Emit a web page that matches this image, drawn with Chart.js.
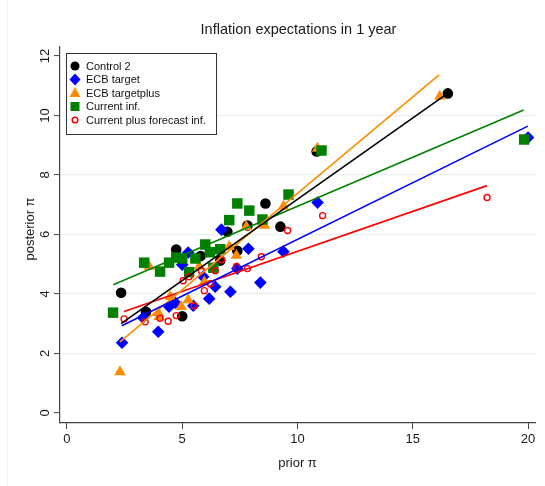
<!DOCTYPE html>
<html>
<head>
<meta charset="utf-8">
<script src="https://cdn.jsdelivr.net/npm/chart.js@4/dist/chart.umd.min.js"></script>
<style>
  html, body { margin: 0; padding: 0; background: #fff; }
</style>
</head>
<body>
<canvas id="chart" width="545" height="486"></canvas>
<script>
// values: [prior, posterior]
const control2 = [[2.35,4.04],[3.43,3.40],[5.0,3.25],[4.74,5.49],[5.8,5.27],[6.65,5.12],[6.96,6.09],
  [7.39,5.45],[7.83,6.30],[8.61,7.04],[9.26,6.26],[10.83,8.79],[16.52,10.74]];
const ecbTarget = [[2.39,2.36],[3.30,3.20],[3.96,2.73],[4.43,3.57],[4.70,3.70],[5.0,4.98],[5.26,5.39],
  [5.48,3.60],[5.91,4.58],[6.17,3.84],[6.43,4.24],[6.70,6.16],[7.09,4.07],[7.39,4.85],[7.87,5.52],
  [8.39,4.38],[9.39,5.42],[10.87,7.07],[20.0,9.26]];
const ecbTargetPlus = [[2.30,1.38],[3.57,4.92],[3.96,3.37],[4.0,3.23],[4.48,3.91],[4.96,3.57],[5.26,3.80],
  [5.74,4.92],[5.96,4.40],[7.04,5.59],[7.35,5.29],[7.78,6.26],[8.57,6.30],[9.39,6.94],[10.87,8.89],[16.17,10.64]];
const currentInf = [[2.0,3.37],[3.35,5.05],[4.04,4.75],[4.43,5.05],[4.74,5.22],[5.0,5.19],[5.30,4.73],
  [5.57,5.19],[6.0,5.66],[6.20,5.40],[6.35,4.88],[6.65,5.50],[7.04,6.48],[7.39,7.04],[7.91,6.80],
  [8.48,6.50],[9.61,7.34],[11.04,8.82],[19.83,9.19]];
const currentPlus = [[2.48,3.16],[3.39,3.06],[4.04,3.18],[4.39,3.08],[4.74,3.27],[5.04,4.44],[5.30,4.58],
  [5.52,3.60],[5.83,4.78],[5.96,4.11],[6.22,4.34],[6.43,4.78],[6.70,5.15],[7.35,4.92],[7.83,4.85],
  [8.43,5.25],[9.57,6.13],[11.09,6.63],[18.22,7.24]];

// fitted lines, ends
const fitControl2 = [[2.35,3.00],[16.45,10.71]];
const fitEcbTarget = [[2.38,2.93],[19.99,9.64]];
const fitEcbTargetPlus = [[2.30,2.39],[16.14,11.36]];
const fitCurrentInf = [[2.01,4.31],[19.81,10.18]];
const fitCurrentPlus = [[2.48,3.41],[18.22,7.64]];

const seriesNames = ['Control 2', 'ECB target', 'ECB targetplus', 'Current inf.', 'Current plus forecast inf.'];
const xTicks = [0, 5, 10, 15, 20];
const yTicks = [0, 2, 4, 6, 8, 10, 12];
const chartTitle = 'Inflation expectations in 1 year';

const FONT = '"Liberation Sans", Arial, Helvetica, sans-serif';
const colors = ['#000000', '#0000ff', '#ff8c00', '#008000', '#ff0000'];

const pts = arr => arr.map(p => ({ x: p[0], y: p[1] }));

function fitLine(arr, color) {
  return {
    data: pts(arr), showLine: true, borderColor: color, borderWidth: 1.6,
    pointRadius: 0, fill: false, order: 0
  };
}

const legendPlugin = {
  id: 'stataText',
  afterDraw(chart) {
    const ctx = chart.ctx;
    const a = chart.chartArea;
    const ys = chart.scales.y;
    ctx.save();
    // faint outer border on the left
    ctx.strokeStyle = '#eef3f4';
    ctx.lineWidth = 1;
    ctx.beginPath(); ctx.moveTo(7.5, 0); ctx.lineTo(7.5, 486); ctx.stroke();

    ctx.fillStyle = '#1a1a1a';
    ctx.textAlign = 'center';
    ctx.textBaseline = 'middle';
    ctx.font = '14.5px ' + FONT;
    ctx.fillText(chartTitle, (a.left + a.right) / 2 + 1, 30);

    ctx.font = '13px ' + FONT;
    ctx.fillText('prior π', (a.left + a.right) / 2, 463);

    ctx.save();
    ctx.translate(30, 229);
    ctx.rotate(-Math.PI / 2);
    ctx.fillText('posterior π', 0, 0);
    ctx.restore();

    yTicks.forEach(v => {
      ctx.save();
      ctx.translate(45, ys.getPixelForValue(v));
      ctx.rotate(-Math.PI / 2);
      ctx.fillText(String(v), 0, 0);
      ctx.restore();
    });

    // legend box
    const lx = 66, ly = 53, lw = 150, lh = 81;
    ctx.fillStyle = '#fff';
    ctx.fillRect(lx, ly, lw, lh);
    ctx.strokeStyle = '#333';
    ctx.lineWidth = 1;
    ctx.strokeRect(lx + 0.5, ly + 0.5, lw, lh);

    ctx.font = '11px ' + FONT;
    ctx.textAlign = 'left';
    seriesNames.forEach((name, i) => {
      const cy = 66 + i * 13.5;
      const cx = 75;
      ctx.fillStyle = colors[i];
      ctx.strokeStyle = colors[i];
      ctx.beginPath();
      if (i === 0) {
        ctx.arc(cx, cy, 4.5, 0, Math.PI * 2); ctx.fill();
      } else if (i === 1) {
        ctx.moveTo(cx - 5.5, cy); ctx.lineTo(cx, cy - 6); ctx.lineTo(cx + 5.5, cy); ctx.lineTo(cx, cy + 6);
        ctx.closePath(); ctx.fill();
      } else if (i === 2) {
        ctx.moveTo(cx, cy - 6); ctx.lineTo(cx + 5.5, cy + 4); ctx.lineTo(cx - 5.5, cy + 4);
        ctx.closePath(); ctx.fill();
      } else if (i === 3) {
        ctx.rect(cx - 4.5, cy - 4.5, 9, 9); ctx.fill();
      } else {
        ctx.lineWidth = 1.5;
        ctx.arc(cx, cy, 2.8, 0, Math.PI * 2); ctx.stroke();
      }
      ctx.fillStyle = '#111';
      ctx.fillText(name, 86, cy + 0.5);
    });
    ctx.restore();
  }
};

new Chart(document.getElementById('chart'), {
  type: 'scatter',
  data: {
    datasets: [
      fitLine(fitControl2, colors[0]),
      fitLine(fitEcbTarget, colors[1]),
      fitLine(fitEcbTargetPlus, colors[2]),
      fitLine(fitCurrentInf, colors[3]),
      fitLine(fitCurrentPlus, colors[4]),
      { data: pts(currentPlus), pointStyle: 'circle', pointRadius: 3, borderWidth: 1.4,
        borderColor: colors[4], backgroundColor: 'rgba(0,0,0,0)', order: 1 },
      { data: pts(currentInf), pointStyle: 'rect', pointRadius: 7.4, borderWidth: 0,
        backgroundColor: colors[3], borderColor: colors[3], order: 2 },
      { data: pts(ecbTargetPlus), pointStyle: 'triangle', pointRadius: 6.6, borderWidth: 0,
        backgroundColor: colors[2], borderColor: colors[2], order: 3 },
      { data: pts(ecbTarget), pointStyle: 'rectRot', pointRadius: 6.3, borderWidth: 0,
        backgroundColor: colors[1], borderColor: colors[1], order: 4 },
      { data: pts(control2), pointStyle: 'circle', pointRadius: 5.3, borderWidth: 0,
        backgroundColor: colors[0], borderColor: colors[0], order: 5 }
    ]
  },
  options: {
    responsive: false,
    animation: false,
    layout: { padding: { top: 47, right: 10, bottom: 0, left: 0 } },
    plugins: { legend: { display: false }, tooltip: { enabled: false }, title: { display: false } },
    scales: {
      x: {
        type: 'linear', min: -0.3, max: 20.3,
        afterBuildTicks: s => { s.ticks = xTicks.map(v => ({ value: v })); },
        afterFit: s => { s.height = 63; },
        grid: { drawOnChartArea: false, drawTicks: true, tickLength: 6, tickColor: '#444', tickWidth: 1 },
        border: { color: '#444', width: 1.2 },
        ticks: { color: '#1a1a1a', font: { family: FONT, size: 13 }, padding: 3, maxRotation: 0 }
      },
      y: {
        type: 'linear', min: -0.34, max: 12.3,
        afterBuildTicks: s => { s.ticks = yTicks.map(v => ({ value: v })); },
        afterFit: s => { s.width = 60; },
        grid: {
          color: ctx => (ctx.tick && (ctx.tick.value === 0 || ctx.tick.value === 12)) ? 'rgba(0,0,0,0)' : '#e8eff1',
          lineWidth: 1.2, drawTicks: true, tickLength: 6, tickColor: '#444', tickWidth: 1
        },
        border: { color: '#444', width: 1.2 },
        ticks: { display: false }
      }
    }
  },
  plugins: [legendPlugin]
});
</script>
</body>
</html>
